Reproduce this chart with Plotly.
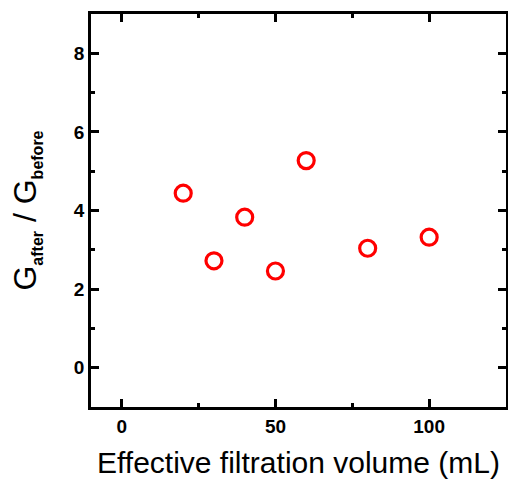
import plotly.graph_objects as go

volume_ml = [20, 30, 40, 50, 60, 80, 100]
g_ratio = [4.44, 2.72, 3.83, 2.46, 5.27, 3.04, 3.32]

x_ticks = [0, 50, 100]
y_ticks = [0, 2, 4, 6, 8]
x_range = [-10, 125]
y_range = [-1, 9]

FONT = "Liberation Sans, Arial"

fig = go.Figure()
fig.add_trace(go.Scatter(
    x=volume_ml, y=g_ratio, mode="markers",
    marker=dict(symbol="circle-open", size=16, color="#ff0000",
                line=dict(width=3.2, color="#ff0000")),
    showlegend=False,
))

tick_style = dict(ticks="inside", ticklen=8, tickwidth=2.5, tickcolor="black")
line_style = dict(showline=True, linecolor="black", linewidth=2.5, showgrid=False,
                  zeroline=False, automargin=False, mirror="ticks")

fig.update_layout(
    xaxis=dict(
        range=x_range, tickvals=x_ticks, ticktext=[str(v) for v in x_ticks],
        minor=dict(ticks="inside", ticklen=4, tickwidth=2.5, tickcolor="black", dtick=25, tick0=0),
        tickfont=dict(family=FONT, size=19, color="black", weight="bold"),
        title=dict(text="Effective filtration volume (mL)",
                   font=dict(family=FONT, size=30, color="black"), standoff=17),
        **tick_style, **line_style,
    ),
    yaxis=dict(
        range=y_range, tickvals=y_ticks, ticktext=[str(v) for v in y_ticks],
        minor=dict(ticks="inside", ticklen=4, tickwidth=2.5, tickcolor="black", dtick=1, tick0=0),
        tickfont=dict(family=FONT, size=19, color="black", weight="bold"),
        title=dict(text=("G<sub><span style='font-size:16px;font-weight:bold'>after</span></sub>"
                         " / G<sub><span style='font-size:16px;font-weight:bold'>before</span></sub>"),
                   font=dict(family=FONT, size=32, color="black"), standoff=28),
        **tick_style, **line_style,
    ),
    width=508, height=481,
    margin=dict(l=91, r=2, t=14, b=74),
    plot_bgcolor="white", paper_bgcolor="white",
)

fig.write_html("out.html", config={"displayModeBar": False},
               post_script="document.body.style.margin='0';document.body.style.overflow='hidden';")
